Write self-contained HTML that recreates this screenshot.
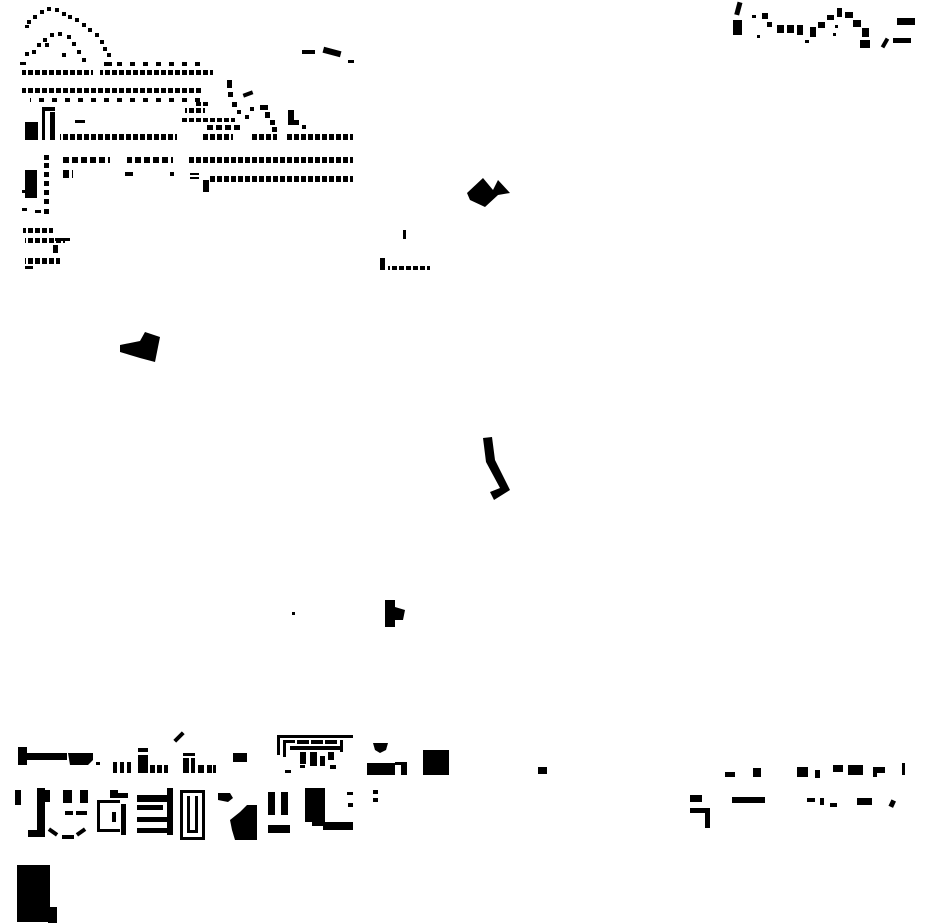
<!DOCTYPE html>
<html><head><meta charset="utf-8"><style>html,body{margin:0;padding:0;background:#fff}svg{display:block}</style></head>
<body>
<svg width="930" height="924" viewBox="0 0 930 924" xmlns="http://www.w3.org/2000/svg">
<defs>
<pattern id="p7" x="0" y="0" width="7" height="1000" patternUnits="userSpaceOnUse"><rect x="0" y="0" width="5" height="1000" fill="#000"/></pattern>
<pattern id="p9" x="0" y="0" width="9" height="1000" patternUnits="userSpaceOnUse"><rect x="0" y="0" width="6" height="1000" fill="#000"/></pattern>
<pattern id="p13" x="0" y="0" width="13" height="1000" patternUnits="userSpaceOnUse"><rect x="0" y="0" width="5" height="1000" fill="#000"/></pattern>
</defs>
<g fill="#000">
<rect x="27" y="20" width="4" height="4"/><rect x="33" y="15" width="4" height="4"/><rect x="40" y="10" width="4" height="4"/><rect x="47" y="7" width="4" height="4"/><rect x="55" y="8" width="4" height="4"/><rect x="62" y="12" width="4" height="4"/><rect x="68" y="15" width="4" height="4"/><rect x="75" y="18" width="4" height="4"/><rect x="82" y="23" width="4" height="4"/><rect x="88" y="28" width="4" height="4"/><rect x="95" y="33" width="4" height="4"/><rect x="100" y="40" width="4" height="4"/><rect x="103" y="47" width="4" height="4"/><rect x="107" y="53" width="4" height="4"/><rect x="108" y="62" width="4" height="4"/><rect x="25" y="25" width="4" height="3"/>
<rect x="25" y="52" width="4" height="4"/><rect x="32" y="50" width="4" height="4"/><rect x="37" y="43" width="4" height="4"/><rect x="43" y="38" width="4" height="4"/><rect x="50" y="33" width="4" height="4"/><rect x="58" y="32" width="4" height="4"/><rect x="67" y="35" width="4" height="4"/><rect x="72" y="42" width="4" height="4"/><rect x="77" y="50" width="4" height="4"/><rect x="82" y="58" width="4" height="4"/><rect x="62" y="53" width="4" height="4"/><rect x="45" y="43" width="4" height="4"/><rect x="20" y="62" width="6" height="3"/>
<rect x="22" y="70" width="71" height="5" fill="url(#p7)"/><rect x="100" y="70" width="113" height="5" fill="url(#p7)"/>
<rect x="100" y="62" width="100" height="4" fill="url(#p13)"/>
<rect x="22" y="88" width="180" height="5" fill="url(#p7)"/>
<rect x="30" y="98" width="170" height="4" fill="url(#p13)"/>
<rect x="60" y="134" width="117" height="6" fill="url(#p7)"/><rect x="203" y="134" width="30" height="6" fill="url(#p7)"/><rect x="250" y="134" width="27" height="6" fill="url(#p7)"/><rect x="287" y="134" width="66" height="6" fill="url(#p7)"/>
<rect x="25" y="122" width="13" height="18"/><rect x="42" y="107" width="13" height="4"/><rect x="42" y="110" width="3" height="30"/><rect x="50" y="112" width="5" height="28"/>
<rect x="75" y="120" width="10" height="3"/>
<rect x="63" y="157" width="47" height="6" fill="url(#p9)"/><rect x="127" y="157" width="46" height="6" fill="url(#p9)"/><rect x="187" y="157" width="166" height="6" fill="url(#p7)"/>
<rect x="208" y="176" width="145" height="6" fill="url(#p7)"/>
<rect x="63" y="170" width="10" height="8" fill="url(#p9)"/><rect x="125" y="172" width="8" height="4"/><rect x="170" y="172" width="4" height="4"/><rect x="190" y="173" width="9" height="2"/><rect x="190" y="177" width="9" height="2"/><rect x="203" y="180" width="6" height="12"/>
<rect x="25" y="170" width="12" height="28"/>
<rect x="44" y="155" width="5" height="5"/><rect x="44" y="163" width="5" height="5"/><rect x="44" y="172" width="5" height="5"/><rect x="44" y="181" width="5" height="5"/><rect x="44" y="190" width="5" height="5"/><rect x="44" y="199" width="5" height="5"/><rect x="44" y="209" width="5" height="5"/><rect x="35" y="210" width="6" height="3"/>
<rect x="22" y="190" width="5" height="3"/><rect x="22" y="208" width="5" height="3"/>
<rect x="23" y="228" width="30" height="5" fill="url(#p7)"/><rect x="25" y="238" width="40" height="5" fill="url(#p7)"/><rect x="55" y="238" width="15" height="3"/><rect x="53" y="245" width="5" height="8"/><rect x="25" y="258" width="35" height="6" fill="url(#p7)"/><rect x="25" y="266" width="8" height="3"/>
<rect x="180" y="118" width="55" height="4" fill="url(#p7)"/><rect x="185" y="108" width="20" height="5" fill="url(#p7)"/><rect x="195" y="102" width="15" height="4" fill="url(#p7)"/><rect x="205" y="125" width="35" height="5" fill="url(#p9)"/>
<rect x="227" y="80" width="5" height="8"/><rect x="228" y="92" width="5" height="5"/><rect x="232" y="102" width="5" height="5"/><rect x="243" y="92" width="10" height="4" transform="rotate(-20 248 94)"/><rect x="237" y="110" width="4" height="4"/><rect x="245" y="115" width="4" height="4"/><rect x="250" y="107" width="4" height="4"/><rect x="260" y="105" width="8" height="5"/><rect x="265" y="112" width="5" height="6"/><rect x="270" y="120" width="5" height="5"/><rect x="272" y="127" width="5" height="5"/>
<rect x="288" y="110" width="6" height="15"/><rect x="294" y="120" width="5" height="5"/><rect x="302" y="125" width="4" height="4"/>
<rect x="302" y="50" width="13" height="4"/><rect x="323" y="49" width="18" height="6" transform="rotate(15 332 52)"/><rect x="348" y="60" width="6" height="3"/>
<polygon points="467,193 483,178 493,190 498,180 510,193 498,195 485,207 470,200"/>
<rect x="403" y="230" width="3" height="9"/><rect x="380" y="258" width="5" height="12"/><rect x="388" y="266" width="42" height="4" fill="url(#p7)"/>
<polygon points="120,345 140,341 145,332 160,337 155,362 140,358 120,352"/>
<polygon points="483,438 492,437 495,460 510,490 494,500 490,492 500,488 486,462"/>
<polygon points="385,600 395,600 395,607 405,610 403,620 395,620 395,627 385,627"/>
<rect x="292" y="612" width="3" height="3"/>
<rect x="538" y="767" width="9" height="7"/>
<rect x="736" y="2" width="5" height="13" transform="rotate(15 738 8)"/><rect x="733" y="20" width="9" height="15"/>
<rect x="752" y="15" width="4" height="3"/><rect x="762" y="13" width="6" height="6"/><rect x="767" y="22" width="5" height="5"/><rect x="777" y="25" width="7" height="8"/><rect x="787" y="25" width="7" height="8"/><rect x="797" y="25" width="6" height="10"/><rect x="805" y="40" width="4" height="3"/><rect x="810" y="27" width="6" height="10"/><rect x="818" y="22" width="7" height="6"/><rect x="827" y="15" width="7" height="5"/><rect x="835" y="25" width="3" height="3"/><rect x="833" y="33" width="3" height="3"/><rect x="837" y="8" width="5" height="9"/><rect x="845" y="12" width="8" height="6"/><rect x="853" y="20" width="8" height="7"/><rect x="862" y="28" width="7" height="9"/><rect x="860" y="40" width="10" height="8"/><rect x="757" y="35" width="3" height="3"/>
<rect x="897" y="18" width="18" height="7"/><rect x="883" y="38" width="4" height="10" transform="rotate(30 885 43)"/><rect x="893" y="38" width="18" height="5"/>
<rect x="725" y="772" width="10" height="5"/><rect x="753" y="768" width="8" height="9"/><rect x="797" y="767" width="11" height="10"/><rect x="815" y="770" width="5" height="8"/><rect x="833" y="765" width="10" height="7"/><rect x="848" y="765" width="15" height="10"/><rect x="873" y="767" width="4" height="10"/><rect x="877" y="767" width="8" height="6"/><rect x="902" y="763" width="3" height="12"/>
<rect x="690" y="795" width="12" height="7"/><rect x="732" y="797" width="33" height="6"/><rect x="690" y="808" width="20" height="5"/><rect x="705" y="812" width="5" height="16"/><rect x="807" y="798" width="8" height="4"/><rect x="820" y="798" width="4" height="7"/><rect x="830" y="803" width="7" height="4"/><rect x="857" y="798" width="15" height="7"/><rect x="890" y="800" width="5" height="7" transform="rotate(25 892 803)"/>
<rect x="18" y="747" width="9" height="18"/><rect x="22" y="753" width="45" height="7"/><polygon points="68,753 93,753 93,760 88,765 70,765"/><rect x="96" y="762" width="4" height="3"/>
<rect x="113" y="762" width="4" height="11"/><rect x="120" y="762" width="4" height="11"/><rect x="127" y="762" width="4" height="11"/><rect x="138" y="748" width="10" height="4"/><rect x="138" y="755" width="10" height="18"/><rect x="150" y="765" width="5" height="8"/><rect x="157" y="765" width="5" height="8"/><rect x="164" y="765" width="4" height="8"/>
<rect x="183" y="753" width="12" height="3"/><rect x="183" y="758" width="6" height="15"/><rect x="191" y="758" width="4" height="15"/><rect x="198" y="765" width="6" height="8"/><rect x="207" y="765" width="5" height="8"/><rect x="213" y="765" width="3" height="8"/>
<rect x="173" y="735" width="12" height="4" transform="rotate(-45 179 737)"/><rect x="233" y="753" width="14" height="9"/>
<rect x="277" y="735" width="76" height="3"/><rect x="277" y="735" width="3" height="20"/><rect x="283" y="740" width="3" height="17"/><rect x="283" y="740" width="12" height="3"/><rect x="297" y="740" width="12" height="4"/><rect x="311" y="740" width="12" height="4"/><rect x="325" y="740" width="12" height="4"/><rect x="340" y="740" width="3" height="12"/><rect x="290" y="746" width="50" height="4"/><rect x="300" y="752" width="6" height="12"/><rect x="310" y="752" width="7" height="14"/><rect x="320" y="756" width="5" height="10"/><rect x="328" y="752" width="6" height="8"/><rect x="285" y="770" width="6" height="3"/><rect x="300" y="765" width="5" height="3"/><rect x="330" y="765" width="6" height="4"/>
<polygon points="373,743 388,743 386,750 380,753 375,750"/><rect x="367" y="763" width="28" height="12"/><rect x="395" y="762" width="12" height="3"/><rect x="401" y="762" width="6" height="13"/>
<rect x="423" y="750" width="26" height="25"/>
<rect x="15" y="790" width="6" height="15"/><rect x="37" y="788" width="8" height="44"/><rect x="28" y="830" width="17" height="7"/><rect x="45" y="790" width="5" height="12"/>
<rect x="63" y="790" width="9" height="13"/><rect x="80" y="790" width="8" height="13"/><rect x="65" y="811" width="8" height="4"/><rect x="76" y="811" width="11" height="4"/>
<rect x="48" y="830" width="10" height="4" transform="rotate(35 53 832)"/><rect x="62" y="835" width="12" height="4"/><rect x="76" y="830" width="10" height="4" transform="rotate(-35 81 832)"/>
<rect x="97" y="800" width="3" height="32"/><rect x="97" y="800" width="23" height="3"/><rect x="97" y="829" width="23" height="3"/><rect x="110" y="790" width="8" height="8"/><rect x="118" y="793" width="10" height="5"/><rect x="121" y="804" width="5" height="31"/><rect x="112" y="812" width="4" height="10"/>
<rect x="137" y="795" width="30" height="7"/><rect x="137" y="805" width="26" height="5"/><rect x="137" y="817" width="30" height="5"/><rect x="137" y="828" width="30" height="5"/><rect x="167" y="788" width="6" height="47"/>
<rect x="180" y="790" width="25" height="3"/><rect x="180" y="790" width="3" height="50"/><rect x="202" y="790" width="3" height="50"/><rect x="180" y="837" width="25" height="3"/><rect x="187" y="796" width="3" height="37"/><rect x="195" y="796" width="3" height="37"/><rect x="187" y="830" width="11" height="3"/>
<polygon points="218,793 230,793 233,798 228,802 218,800"/><polygon points="230,820 240,812 247,805 257,805 257,840 235,840 232,830"/>
<rect x="268" y="792" width="7" height="23"/><rect x="281" y="792" width="7" height="23"/><rect x="268" y="825" width="22" height="8"/>
<rect x="305" y="788" width="20" height="34"/><rect x="312" y="822" width="13" height="4"/><rect x="323" y="822" width="30" height="8"/><rect x="347" y="792" width="6" height="3"/><rect x="348" y="803" width="5" height="4"/><rect x="373" y="790" width="5" height="4"/><rect x="373" y="798" width="5" height="4"/>
<rect x="17" y="865" width="33" height="57"/><rect x="48" y="907" width="9" height="16"/>
</g>
</svg>
</body></html>
